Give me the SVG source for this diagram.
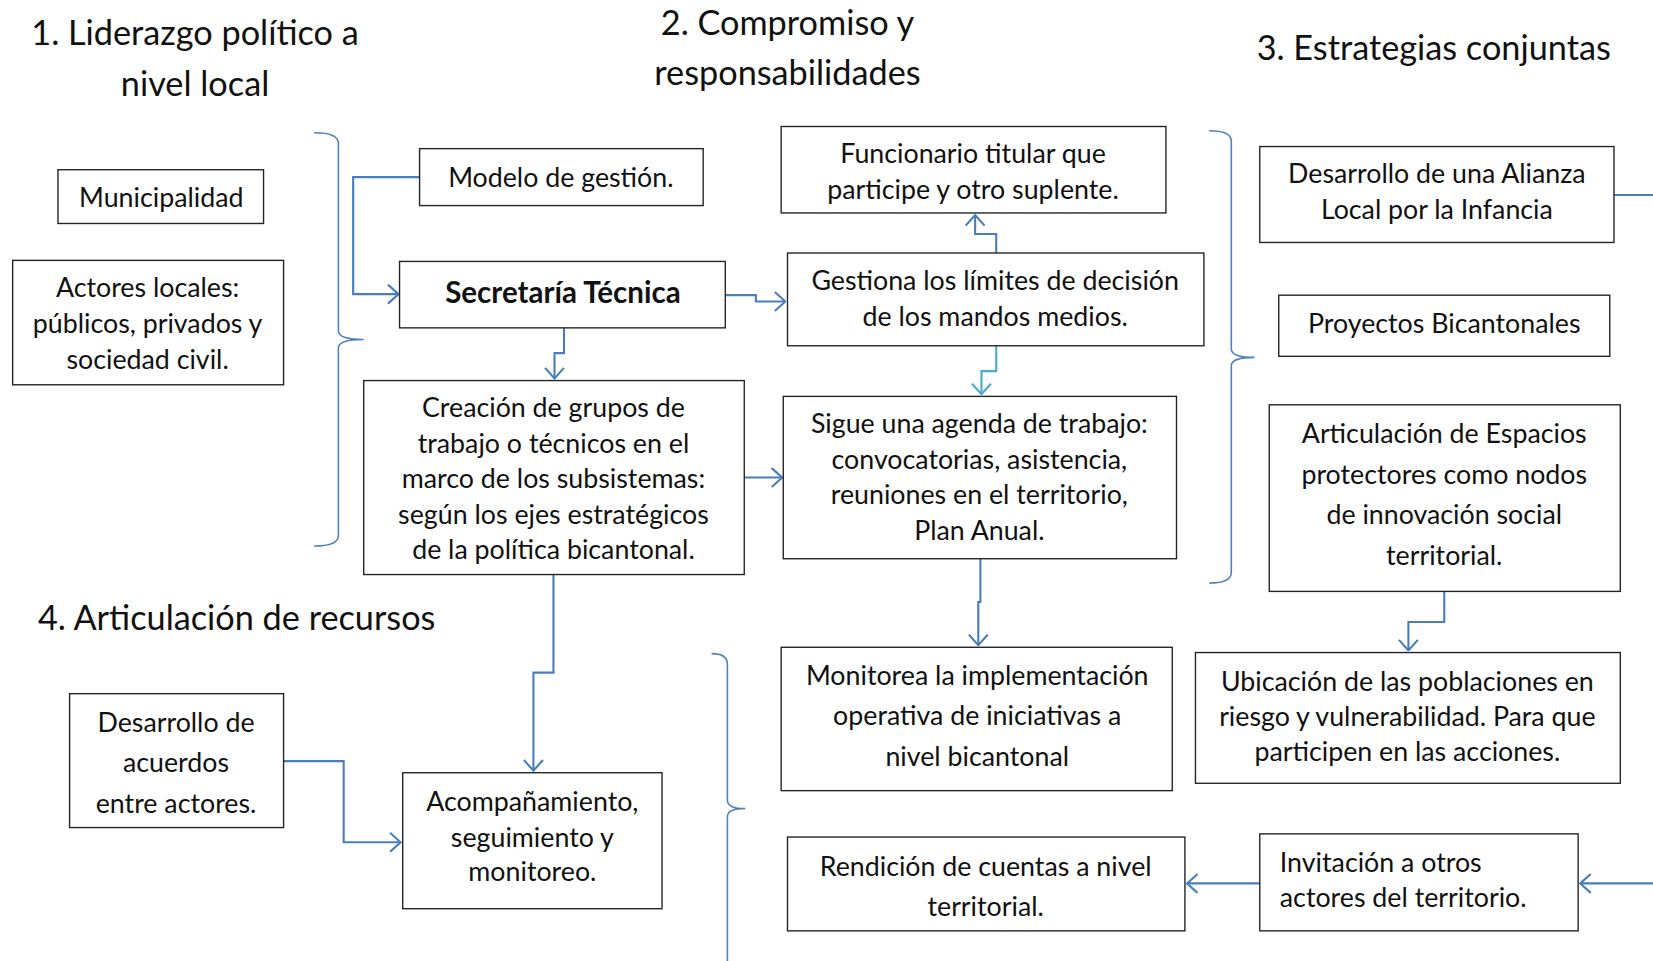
<svg xmlns="http://www.w3.org/2000/svg" width="1653" height="961" viewBox="0 0 1653 961">
<style>
.box{fill:#fff;stroke:#222;stroke-width:1.3}
.t{font-family:Lato,"Liberation Sans",sans-serif;font-size:25.4px;fill:#111;text-anchor:middle}
.b{font-weight:bold;font-size:28px}
.h{font-family:Lato,"Liberation Sans",sans-serif;font-size:32.5px;fill:#111;text-anchor:middle}
.l{text-anchor:start}
.c{fill:none;stroke:#4A7EBB;stroke-width:2;marker-end:url(#ar)}
.cc{fill:none;stroke:#4BACC6;stroke-width:2;marker-end:url(#ar2)}
.br{fill:none;stroke:#4F81BD;stroke-width:1.5}
</style>
<defs>
<marker id="ar" viewBox="0 0 12 20" refX="11" refY="10" markerWidth="12" markerHeight="20" markerUnits="userSpaceOnUse" orient="auto"><path d="M1,1 L11,10 L1,19" fill="none" stroke="#4A7EBB" stroke-width="2"/></marker>
<marker id="ar2" viewBox="0 0 12 20" refX="11" refY="10" markerWidth="12" markerHeight="20" markerUnits="userSpaceOnUse" orient="auto"><path d="M1,1 L11,10 L1,19" fill="none" stroke="#4BACC6" stroke-width="2"/></marker>
</defs>
<rect width="1653" height="961" fill="#fff"/>
<g transform="scale(1.0542)">
<g id="titles">
<text class="h" x="185" y="43">1. Liderazgo político a</text>
<text class="h" x="185" y="91">nivel local</text>
<text class="h" x="747" y="33">2. Compromiso y</text>
<text class="h" x="747" y="81">responsabilidades</text>
<text class="h" x="1360" y="57">3. Estrategias conjuntas</text>
<text class="h l" x="36" y="598">4. Articulación de recursos</text>
</g>
<g id="brackets">
<path class="br" d="M298,126 Q321,126 321,136 L321,314 Q321,322 345,322 Q321,322 321,330 L321,508 Q321,518 298,518"/>
<path class="br" d="M1147,124 Q1168,124 1168,134 L1168,331 Q1168,339 1190,339 Q1168,339 1168,347 L1168,543 Q1168,553 1147,553"/>
<path class="br" d="M675,620 Q690,620 690,630 L690,759 Q690,767 707,767 Q690,767 690,775 L690,912"/>
</g>
<g id="connectors">
<path class="c" d="M398,168 H335 V279 H378"/>
<path class="c" d="M688,280 H717 V286 H745"/>
<path class="c" d="M535,311 V335 H526 V359"/>
<path class="c" d="M945,240 V222 H925 V204"/>
<path class="cc" d="M945,328 V352 H931 V374"/>
<path class="c" d="M706,453 H742"/>
<path class="c" d="M930,530 V571 H928 V612"/>
<path class="c" d="M525,545 V638 H506 V731"/>
<path class="c" d="M269,722 H326 V799 H380"/>
<path class="c" d="M1370,561 V590 H1336 V617"/>
<path class="c" d="M1195,838 H1126"/>
<path class="c" d="M1570,838 H1499"/>
<path class="c" style="marker-end:none" d="M1531,185 H1570"/>
</g>
<g id="n-municipalidad"><rect class="box" x="55" y="161" width="195" height="51"/><text class="t" x="153" y="196">Municipalidad</text></g>
<g id="n-actores"><rect class="box" x="12" y="247" width="257" height="118"/><text class="t" x="140" y="282">Actores locales:</text><text class="t" x="140" y="316">públicos, privados y</text><text class="t" x="140" y="350">sociedad civil.</text></g>
<g id="n-modelo"><rect class="box" x="398" y="141" width="269" height="54"/><text class="t" x="532" y="177">Modelo de gestión.</text></g>
<g id="n-secretaria"><rect class="box" x="379" y="248" width="309" height="63"/><text class="t b" x="534" y="287">Secretaría Técnica</text></g>
<g id="n-creacion"><rect class="box" x="345" y="361" width="361" height="184"/><text class="t" x="525" y="396">Creación de grupos de</text><text class="t" x="525" y="430">trabajo o técnicos en el</text><text class="t" x="525" y="463">marco de los subsistemas:</text><text class="t" x="525" y="497">según los ejes estratégicos</text><text class="t" x="525" y="530">de la política bicantonal.</text></g>
<g id="n-funcionario"><rect class="box" x="741" y="120" width="365" height="82"/><text class="t" x="923" y="155">Funcionario titular que</text><text class="t" x="923" y="189">participe y otro suplente.</text></g>
<g id="n-gestiona"><rect class="box" x="747" y="240" width="395" height="88"/><text class="t" x="944" y="275">Gestiona los límites de decisión</text><text class="t" x="944" y="309">de los mandos medios.</text></g>
<g id="n-sigue"><rect class="box" x="743" y="376" width="373" height="154"/><text class="t" x="929" y="411">Sigue una agenda de trabajo:</text><text class="t" x="929" y="445">convocatorias, asistencia,</text><text class="t" x="929" y="478">reuniones en el territorio,</text><text class="t" x="929" y="512">Plan Anual.</text></g>
<g id="n-monitorea"><rect class="box" x="741" y="614" width="371" height="136"/><text class="t" x="927" y="650">Monitorea la implementación</text><text class="t" x="927" y="688">operativa de iniciativas a</text><text class="t" x="927" y="727">nivel bicantonal</text></g>
<g id="n-rendicion"><rect class="box" x="747" y="794" width="377" height="89"/><text class="t" x="935" y="831">Rendición de cuentas a nivel</text><text class="t" x="935" y="869">territorial.</text></g>
<g id="n-alianza"><rect class="box" x="1195" y="139" width="336" height="91"/><text class="t" x="1363" y="174">Desarrollo de una Alianza</text><text class="t" x="1363" y="208">Local por la Infancia</text></g>
<g id="n-proyectos"><rect class="box" x="1213" y="280" width="314" height="58"/><text class="t" x="1370" y="316">Proyectos Bicantonales</text></g>
<g id="n-articulacion"><rect class="box" x="1204" y="384" width="333" height="177"/><text class="t" x="1370" y="420">Articulación de Espacios</text><text class="t" x="1370" y="459">protectores como nodos</text><text class="t" x="1370" y="497">de innovación social</text><text class="t" x="1370" y="536">territorial.</text></g>
<g id="n-ubicacion"><rect class="box" x="1134" y="619" width="403" height="124"/><text class="t" x="1335" y="655">Ubicación de las poblaciones en</text><text class="t" x="1335" y="689">riesgo y vulnerabilidad. Para que</text><text class="t" x="1335" y="722">participen en las acciones.</text></g>
<g id="n-invitacion"><rect class="box" x="1195" y="791" width="302" height="92"/><text class="t l" x="1214" y="827">Invitación a otros</text><text class="t l" x="1214" y="860">actores del territorio.</text></g>
<g id="n-acuerdos"><rect class="box" x="66" y="658" width="203" height="127"/><text class="t" x="167" y="694">Desarrollo de</text><text class="t" x="167" y="732">acuerdos</text><text class="t" x="167" y="771">entre actores.</text></g>
<g id="n-acompanamiento"><rect class="box" x="382" y="733" width="246" height="129"/><text class="t" x="505" y="769">Acompañamiento,</text><text class="t" x="505" y="803">seguimiento y</text><text class="t" x="505" y="836">monitoreo.</text></g>
</g>
</svg>
